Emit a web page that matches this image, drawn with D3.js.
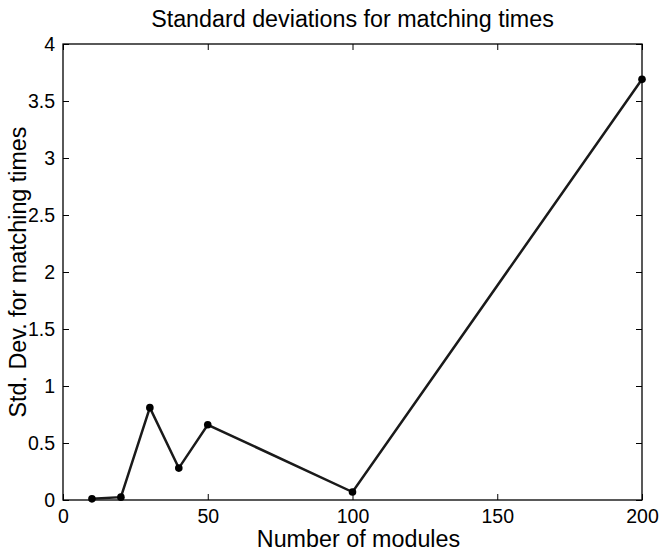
<!DOCTYPE html>
<html>
<head>
<meta charset="utf-8">
<script src="https://cdn.jsdelivr.net/npm/d3@7"></script>
<style>
  body { margin: 0; background: #fff; }
  svg { display: block; font-family: "Liberation Sans", Arial, sans-serif; }
</style>
</head>
<body>
<svg width="661" height="551"></svg>
<script>
var modules = [10, 20, 30, 40, 50, 100, 200];
var stdDev = [0.01, 0.025, 0.81, 0.28, 0.66, 0.07, 3.69];
var xTicks = [0, 50, 100, 150, 200];
var yTicks = [0, 0.5, 1, 1.5, 2, 2.5, 3, 3.5, 4];

var svg = d3.select("svg"),
    margin = {top: 44, right: 19, bottom: 51, left: 63},
    width = 661 - margin.left - margin.right,
    height = 551 - margin.top - margin.bottom,
    g = svg.append("g").attr("transform", "translate(" + margin.left + "," + margin.top + ")");

var x = d3.scaleLinear().domain([0, 200]).range([0, width]),
    y = d3.scaleLinear().domain([0, 4]).range([height, 0]);

var data = modules.map(function(m, i) { return {m: m, v: stdDev[i]}; });

function styleAxis(sel) {
  sel.select(".domain").remove();
  sel.selectAll("line").attr("stroke", "#000").attr("stroke-width", 1);
  sel.selectAll("text").attr("fill", "#000").style("font-size", "19.5px");
}

// bottom + top
g.append("g").attr("transform", "translate(0," + height + ")")
  .call(d3.axisBottom(x).tickValues(xTicks).tickSizeInner(-6).tickSizeOuter(0).tickPadding(9))
  .call(styleAxis);
g.append("g")
  .call(d3.axisTop(x).tickValues(xTicks).tickSizeInner(-6).tickSizeOuter(0).tickFormat(""))
  .call(styleAxis);
// left + right
g.append("g")
  .call(d3.axisLeft(y).tickValues(yTicks).tickFormat(function(d) { return d; })
    .tickSizeInner(-6).tickSizeOuter(0).tickPadding(8))
  .call(styleAxis);
g.append("g").attr("transform", "translate(" + width + ",0)")
  .call(d3.axisRight(y).tickValues(yTicks).tickSizeInner(-6).tickSizeOuter(0).tickFormat(""))
  .call(styleAxis);

g.append("rect")
  .attr("width", width).attr("height", height)
  .attr("fill", "none").attr("stroke", "#000").attr("stroke-width", 1.3);

var line = d3.line()
  .x(function(d) { return x(d.m); })
  .y(function(d) { return y(d.v); });

g.append("path")
  .datum(data)
  .attr("d", line)
  .attr("fill", "none")
  .attr("stroke", "#1a1a1a")
  .attr("stroke-width", 2.5)
  .attr("stroke-linejoin", "miter");

g.selectAll(".dot")
  .data(data)
  .enter().append("circle")
  .attr("class", "dot")
  .attr("cx", function(d) { return x(d.m); })
  .attr("cy", function(d) { return y(d.v); })
  .attr("r", 3.8)
  .attr("fill", "#000");

svg.append("text")
  .attr("x", margin.left + width / 2)
  .attr("y", 27)
  .attr("text-anchor", "middle")
  .style("font-size", "23.3px")
  .text("Standard deviations for matching times");

svg.append("text")
  .attr("x", margin.left + width / 2 + 6)
  .attr("y", 547)
  .attr("text-anchor", "middle")
  .style("font-size", "23.3px")
  .text("Number of modules");

svg.append("text")
  .attr("transform", "translate(26," + (margin.top + height / 2) + ") rotate(-90)")
  .attr("text-anchor", "middle")
  .style("font-size", "23.3px")
  .text("Std. Dev. for matching times");
</script>
</body>
</html>
